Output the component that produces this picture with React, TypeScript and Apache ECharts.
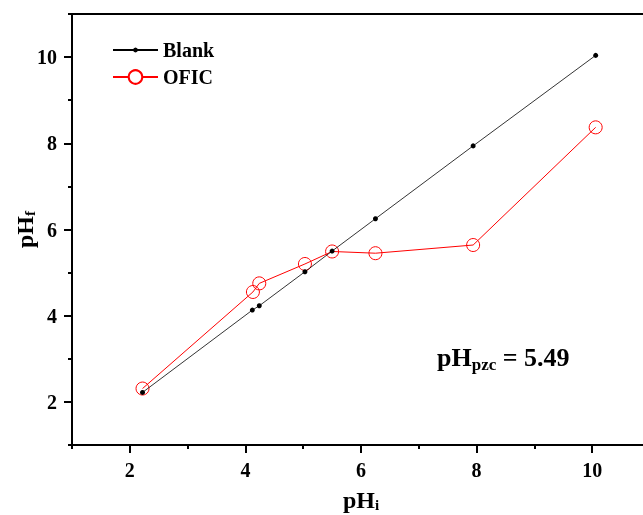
import React, { useEffect, useRef } from "react";
import * as echarts from "echarts";

const pHi = [2.22, 4.12, 4.24, 5.03, 5.5, 6.25, 7.94, 10.06];
const blankPHf = [2.22, 4.13, 4.23, 5.02, 5.5, 6.25, 7.94, 10.04];
const oficPHi = [2.22, 4.13, 4.24, 5.03, 5.5, 6.25, 7.94, 10.06];
const oficPHf = [2.31, 4.55, 4.75, 5.2, 5.49, 5.45, 5.64, 8.37];
const majorTicks = [2, 4, 6, 8, 10];
const minorTicks = [1, 3, 5, 7, 9, 11];
const seriesNames = ["Blank", "OFIC"];
const annotation = { main: "pH", sub: "pzc", rest: " = 5.49" };

const FONT = "'Liberation Serif', 'Times New Roman', serif";

export default function App() {
  const ref = useRef<HTMLDivElement>(null);
  useEffect(() => {
    if (!ref.current) return;
    const chart = echarts.init(ref.current, null, { renderer: "svg" });
    const nameRich = {
      a: { fontSize: 24, fontWeight: "bold", fontFamily: FONT, color: "#000", lineHeight: 24 },
      b: { fontSize: 15, fontWeight: "bold", fontFamily: FONT, color: "#000", lineHeight: 8, verticalAlign: "bottom" },
    };
    const labelStyle = { fontSize: 20, fontWeight: "bold", fontFamily: FONT, color: "#000" };
    const baseAxis = { min: 1, max: 11, interval: 1, splitLine: { show: false } };
    const option: any = {
      animation: false,
      grid: {
        left: 72, right: -7, top: 14, bottom: 70, show: true, borderColor: "#000", borderWidth: 2,
        containLabel: false, outerBoundsMode: "none",
      },
      legend: [
        {
          data: [seriesNames[0]], orient: "vertical", left: 112, top: 40, padding: 0,
          itemWidth: 45, itemHeight: 6,
          textStyle: { fontSize: 20, fontWeight: "bold", fontFamily: FONT, color: "#000" },
        },
        {
          data: [seriesNames[1]], orient: "vertical", left: 112, top: 67, padding: 0,
          itemWidth: 45, itemHeight: 17, itemStyle: { color: "#fff" },
          textStyle: { fontSize: 20, fontWeight: "bold", fontFamily: FONT, color: "#000" },
        },
      ],
      xAxis: [
        {
          ...baseAxis, type: "value", position: "bottom",
          name: "{a|pH}{b|i}", nameLocation: "middle", nameGap: 43, nameMoveOverlap: false,
          nameTextStyle: { rich: nameRich },
          axisLine: { show: true, lineStyle: { color: "#000", width: 2 } },
          axisTick: { show: true, customValues: majorTicks, length: 8, lineStyle: { color: "#000", width: 2 } },
          axisLabel: { customValues: majorTicks, margin: 15, ...labelStyle },
        },
        {
          ...baseAxis, type: "value", position: "bottom",
          axisLine: { show: false },
          axisTick: { show: true, customValues: minorTicks, length: 4, lineStyle: { color: "#000", width: 2 } },
          axisLabel: { show: false },
        },
      ],
      yAxis: [
        {
          ...baseAxis, type: "value", position: "left",
          name: "{a|pH}{b|f}", nameLocation: "middle", nameGap: 35, nameMoveOverlap: false,
          nameTextStyle: { rich: nameRich },
          axisLine: { show: true, lineStyle: { color: "#000", width: 2 } },
          axisTick: { show: true, customValues: majorTicks, length: 8, lineStyle: { color: "#000", width: 2 } },
          axisLabel: { customValues: majorTicks, margin: 15, ...labelStyle },
        },
        {
          ...baseAxis, type: "value", position: "left",
          axisLine: { show: false },
          axisTick: { show: true, customValues: minorTicks, length: 4, lineStyle: { color: "#000", width: 2 } },
          axisLabel: { show: false },
        },
      ],
      series: [
        {
          name: seriesNames[1], type: "line", xAxisIndex: 0, yAxisIndex: 0,
          data: oficPHi.map((x, i) => [x, oficPHf[i]]),
          symbol: "circle", symbolSize: 13,
          itemStyle: { color: "rgba(255,255,255,0)", borderColor: "#ff0000", borderWidth: 1 },
          lineStyle: { color: "#ff0000", width: 1 },
          z: 2,
        },
        {
          name: seriesNames[0], type: "line", xAxisIndex: 0, yAxisIndex: 0,
          data: pHi.map((x, i) => [x, blankPHf[i]]),
          symbol: "circle", symbolSize: 5,
          itemStyle: { color: "#000" },
          lineStyle: { color: "#000", width: 0.8 },
          z: 3,
        },
      ],
      graphic: [
        {
          type: "text", x: 437, y: 357,
          style: {
            text: `{a|${annotation.main}}{b|${annotation.sub}}{a|${annotation.rest}}`,
            verticalAlign: "middle",
            rich: {
              a: { fontSize: 26, fontWeight: "bold", fontFamily: FONT, fill: "#000", lineHeight: 32 },
              b: { fontSize: 17, fontWeight: "bold", fontFamily: FONT, fill: "#000", lineHeight: 17, verticalAlign: "bottom" },
            },
          },
        },
      ],
    };
    chart.setOption(option);
    return () => chart.dispose();
  }, []);
  return <div ref={ref} style={{ position: "fixed", left: 0, top: 0, width: 643, height: 515 }} />;
}
